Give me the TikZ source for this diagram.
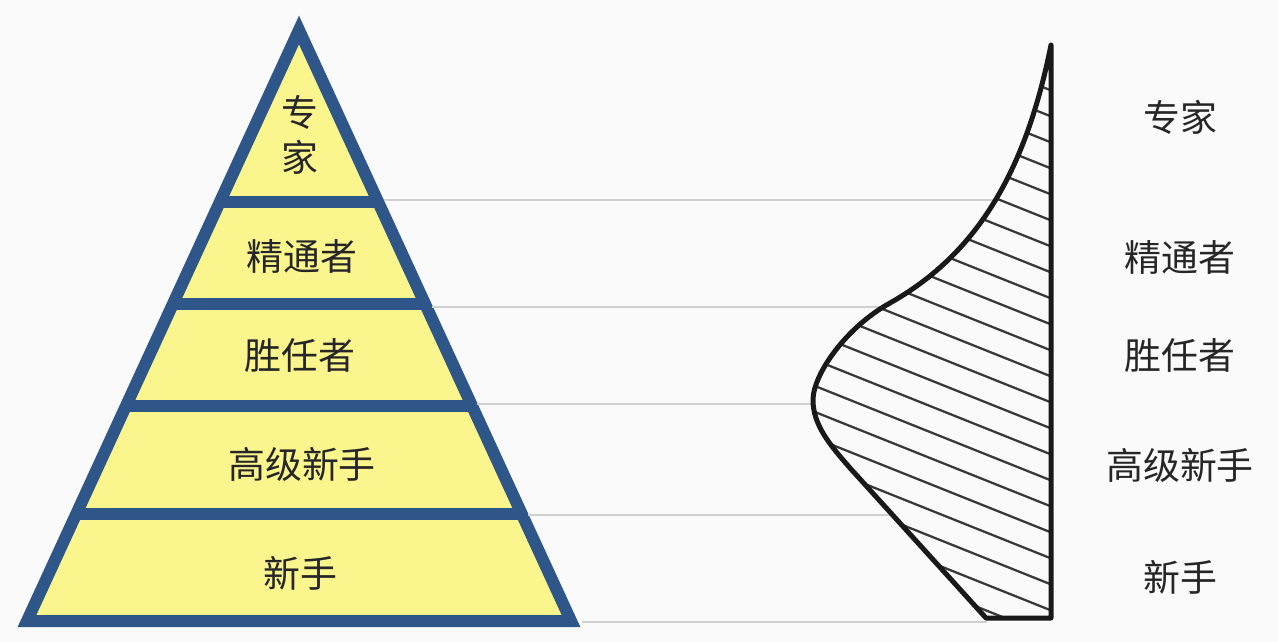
\documentclass[tikz,border=0pt]{standalone}
\usepackage{fontspec}
\newfontfamily\cjk{Noto Sans CJK SC}
\usepackage{tikz}
\usetikzlibrary{calc}
\definecolor{pyrblue}{RGB}{46,86,136}
\definecolor{pyryellow}{RGB}{250,245,140}
\definecolor{guidegray}{RGB}{208,208,208}
\definecolor{bgwhite}{RGB}{250,250,250}
\tikzset{
  pyrline/.style={draw=pyrblue, line width=0.24cm},
  guide/.style={draw=guidegray, line width=0.03cm},
  curveline/.style={draw=black!90, line width=0.1cm, line join=round},
  hatchline/.style={draw=black!78, line width=0.045cm},
  lvltext/.style={font=\cjk\fontsize{21}{26}\selectfont, text=black!85, inner sep=0pt, align=center},
}
\newcommand{\distcurve}{(1051,45) .. controls (1025,175) and (975,255) .. (890,303)
  .. controls (845,328) and (813,375) .. (813,400)
  .. controls (813,425) and (830,445) .. (850,468) -- (986,618) -- (1051,618) -- cycle}

\begin{document}
\begin{tikzpicture}[x=0.02cm, y=-0.02cm]
  \fill[bgwhite] (0,0) rectangle (1278,642);
  \useasboundingbox (0,0) rectangle (1278,642);

  % --- Pyramid ---
  \coordinate (apex) at (299,30);
  \coordinate (baseL) at (27,621);
  \coordinate (baseR) at (571,621);
  \fill[pyryellow] (apex) -- (baseL) -- (baseR) -- cycle;
  \begin{scope}
    \clip (apex) -- (baseL) -- (baseR) -- cycle;
    \foreach \y in {202,304,406,514}
      \draw[pyrline] (0,\y) -- (640,\y);
  \end{scope}
  \draw[pyrline] (apex) -- (baseL) -- (baseR) -- cycle;

  % --- Guide lines between the two figures ---
  \coordinate (g1) at (384,200);  \coordinate (c1) at (994,200);
  \coordinate (g2) at (432,307);  \coordinate (c2) at (884,307);
  \coordinate (g3) at (477,404);  \coordinate (c3) at (813,404);
  \coordinate (g4) at (528,515);  \coordinate (c4) at (892,515);
  \coordinate (g5) at (582,622);  \coordinate (c5) at (987,622);
  \foreach \i in {1,...,5}
    \draw[guide] (g\i) -- (c\i);

  % --- Distribution curve with hatching ---
  \begin{scope}
    \clip \distcurve;
    \fill[bgwhite] (780,0) rectangle (1060,642);
    \foreach \k in {0,...,22}
      \draw[hatchline] (790,{-40+26*\k}) -- ++(270,108);
  \end{scope}
  \draw[curveline] \distcurve;

  % --- Level labels in the pyramid ---
  \node (expertP) [lvltext] at (300,135) {专\\家};
  \node (proficientP) [lvltext] at (302,256) {精通者};
  \node (competentP) [lvltext] at (300,355) {胜任者};
  \node (advbeginnerP) [lvltext] at (302,464) {高级新手};
  \node (noviceP) [lvltext] at (300,573) {新手};

  % --- Level labels on the right ---
  \node (expertR) [lvltext] at (1180,117) {专家};
  \node (proficientR) [lvltext] at (1180,257) {精通者};
  \node (competentR) [lvltext] at (1180,355) {胜任者};
  \node (advbeginnerR) [lvltext] at (1180,465) {高级新手};
  \node (noviceR) [lvltext] at (1180,577) {新手};

\end{tikzpicture}
\end{document}
